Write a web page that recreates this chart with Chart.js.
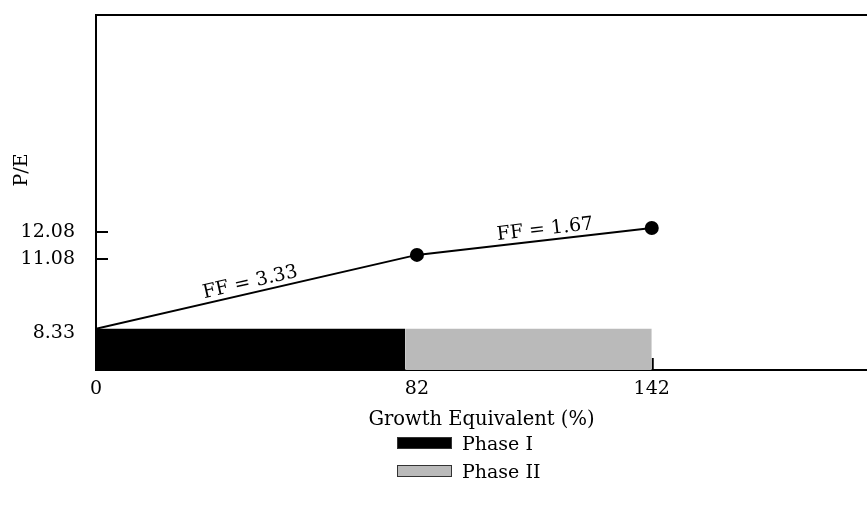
<!DOCTYPE html>
<html>
<head>
<meta charset="utf-8">
<script src="https://cdn.jsdelivr.net/npm/chart.js@4.4.0/dist/chart.umd.min.js"></script>
<style>
  html, body { margin: 0; padding: 0; background: #fff; overflow: hidden; }
  #wrap { position: relative; width: 867px; height: 512px; }
  #peChart { display: block; }
  #legend { position: absolute; left: 397px; top: 429px; font-family: 'DejaVu Serif', serif; font-size: 19px; color: #000; }
  #legend .row { height: 28px; display: flex; align-items: center; }
  #legend .box { width: 55px; height: 12px; margin-right: 10px; box-sizing: border-box; }
</style>
</head>
<body>
<div id="wrap">
  <canvas id="peChart" width="867" height="512"></canvas>
  <div id="legend"></div>
</div>
<script>
// chart data
var growthEquiv = [0, 82, 142];
var peValues = [8.33, 11.08, 12.08];
var xTicks = [0, 82, 142];
var yTicks = [8.33, 11.08, 12.08];
var ffLabels = ['FF = 3.33', 'FF = 1.67'];

var phaseNames = ['Phase I', 'Phase II'];
var phaseFrom = [0, 79];
var phaseTo = [79, 142];
var phaseLevel = 8.33;
var phaseColors = ['#000000', '#bababa'];

var serif = "'DejaVu Serif', serif";
var yLabelShift = 4;

// line points
var linePoints = growthEquiv.map(function (x, i) { return { x: x, y: peValues[i] }; });

// phase blocks, filled down to the bottom of the axis
var phaseSets = phaseNames.map(function (name, i) {
    return {
        label: name,
        data: [{ x: phaseFrom[i], y: phaseLevel }, { x: phaseTo[i], y: phaseLevel }],
        borderWidth: 0,
        borderColor: phaseColors[i],
        backgroundColor: phaseColors[i],
        pointRadius: 0,
        fill: 'start',
        order: 2
    };
});

// plugin: frame top line, inner tick marks, FF labels, P/E title
var extras = {
    id: 'extras',
    beforeDatasetsDraw: function (chart) {
        var c = chart.ctx, a = chart.chartArea;
        var xs = chart.scales.x, ys = chart.scales.y;
        c.save();
        c.strokeStyle = '#000';
        c.lineWidth = 2;
        c.beginPath();
        c.moveTo(a.left, a.top);
        c.lineTo(a.right, a.top);
        yTicks.forEach(function (v) {
            var py = ys.getPixelForValue(v) + yLabelShift;
            c.moveTo(a.left, py);
            c.lineTo(a.left + 12, py);
        });
        xTicks.forEach(function (v) {
            var px = xs.getPixelForValue(v);
            c.moveTo(px + 1, a.bottom);
            c.lineTo(px + 1, a.bottom - 12);
        });
        c.stroke();
        c.restore();
    },
    afterDatasetsDraw: function (chart) {
        var c = chart.ctx;
        var xs = chart.scales.x, ys = chart.scales.y;
        c.save();
        c.fillStyle = '#000';
        c.font = '19px ' + serif;
        c.textAlign = 'center';
        c.textBaseline = 'bottom';
        ffLabels.forEach(function (txt, i) {
            var x1 = xs.getPixelForValue(growthEquiv[i]), y1 = ys.getPixelForValue(peValues[i]);
            var x2 = xs.getPixelForValue(growthEquiv[i + 1]), y2 = ys.getPixelForValue(peValues[i + 1]);
            var ang = Math.atan2(y2 - y1, x2 - x1);
            c.save();
            c.translate((x1 + x2) / 2, (y1 + y2) / 2);
            c.rotate(ang);
            c.fillText(txt, i === 0 ? -4 : 12, -1);
            c.restore();
        });
        // y axis title
        c.save();
        c.translate(22, 170);
        c.rotate(-Math.PI / 2);
        c.textBaseline = 'middle';
        c.fillText('P/E', 0, 0);
        c.restore();
        c.restore();
    }
};

var ctx = document.getElementById('peChart').getContext('2d');
var peChart = new Chart(ctx, {
    type: 'line',
    data: {
        datasets: [{
            label: 'P/E',
            data: linePoints,
            borderColor: '#000',
            borderWidth: 2,
            backgroundColor: '#000',
            pointRadius: [0, 7, 7],
            pointBorderWidth: 0,
            fill: false,
            order: 1
        }].concat(phaseSets)
    },
    options: {
        responsive: false,
        animation: false,
        layout: { autoPadding: false, padding: { top: 15, right: 0, bottom: 0, left: 0 } },
        plugins: { legend: { display: false }, tooltip: { enabled: false } },
        scales: {
            x: {
                type: 'linear',
                min: 0,
                max: 197,
                afterBuildTicks: function (s) { s.ticks = xTicks.map(function (v) { return { value: v }; }); },
                afterFit: function (s) { s.height = 142; s.paddingLeft = 0; s.paddingRight = 0; },
                grid: { display: false },
                border: { display: true, color: '#000', width: 2 },
                ticks: {
                    color: '#000',
                    padding: 0,
                    maxRotation: 0,
                    font: { family: serif, size: 19 },
                    callback: function (v) { return String(v); }
                },
                title: {
                    display: true,
                    text: 'Growth Equivalent (%)',
                    color: '#000',
                    font: { family: serif, size: 19.5 },
                    padding: { top: 0, bottom: 80 }
                }
            },
            y: {
                min: 6.8,
                max: 20,
                afterBuildTicks: function (s) { s.ticks = yTicks.map(function (v) { return { value: v }; }); },
                afterFit: function (s) { s.width = 96; s.paddingTop = 0; s.paddingBottom = 0; },
                grid: { display: false },
                border: { display: true, color: '#000', width: 2 },
                ticks: {
                    color: '#000',
                    padding: 13,
                    labelOffset: yLabelShift,
                    font: { family: serif, size: 19 },
                    callback: function (v) { return v.toFixed(2); }
                }
            }
        }
    },
    plugins: [extras]
});

// legend, stacked like the original
var legend = document.getElementById('legend');
phaseNames.forEach(function (name, i) {
    var row = document.createElement('div');
    row.className = 'row';
    var box = document.createElement('span');
    box.className = 'box';
    box.style.background = phaseColors[i];
    box.style.border = '1px solid #333';
    var label = document.createElement('span');
    label.textContent = name;
    row.appendChild(box);
    row.appendChild(label);
    legend.appendChild(row);
});
</script>
</body>
</html>
